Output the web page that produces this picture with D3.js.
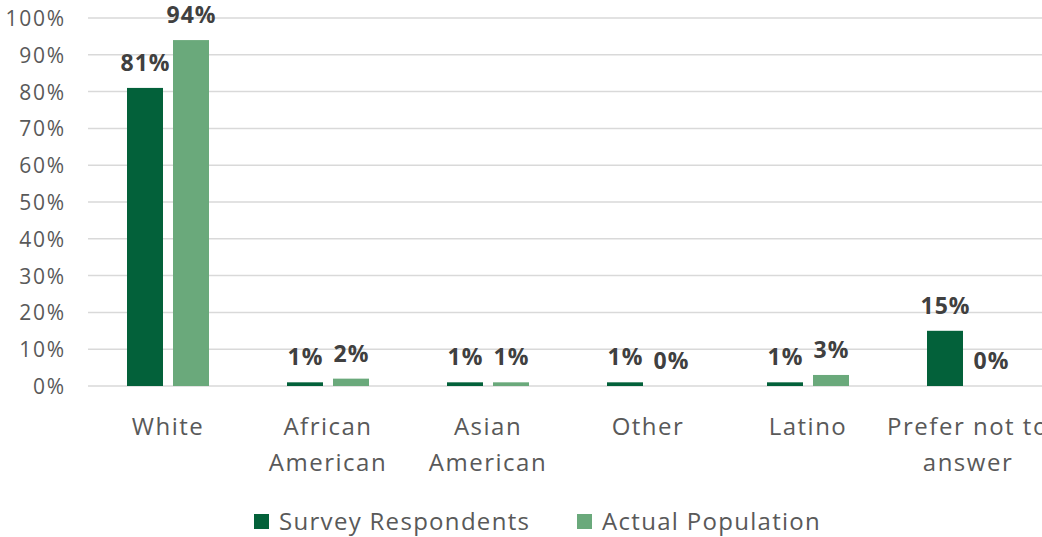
<!DOCTYPE html>
<html>
<head>
<meta charset="utf-8">
<script src="https://cdn.jsdelivr.net/npm/d3@7"></script>
<style>
  html, body { margin: 0; padding: 0; background: #fff; overflow: hidden; }
  text { font-family: "Open Sans", sans-serif; }
</style>
</head>
<body>
<div id="chart"></div>
<script>
// data
const categories = [["White"], ["African", "American"], ["Asian", "American"], ["Other"], ["Latino"], ["Prefer not to", "answer"]];
const seriesNames = ["Survey Respondents", "Actual Population"];
const surveyValues = [81, 1, 1, 1, 1, 15];
const actualValues = [94, 2, 1, 0, 3, 0];
const yTicks = [0, 10, 20, 30, 40, 50, 60, 70, 80, 90, 100];
const colors = ["#03613a", "#6aa97b"];

const width = 1042;
const height = 537;
const plotLeft = 88;
const plotRight = 1048;
const plotTop = 18;
const plotBottom = 386;

const svg = d3.select("#chart")
  .append("svg")
  .attr("width", width)
  .attr("height", height);

const xScale = d3.scaleBand()
  .domain(categories.map((d, i) => i))
  .range([plotLeft, plotRight]);

const yScale = d3.scaleLinear()
  .domain([0, 100])
  .range([plotBottom, plotTop]);

// sub-band for the two series inside each category
const groupWidth = 82;
const x1 = d3.scaleBand()
  .domain([0, 1])
  .range([0, groupWidth])
  .paddingInner(10 / 46);

// gridlines
svg.append("g")
  .selectAll("line")
  .data(yTicks)
  .join("line")
  .attr("x1", plotLeft)
  .attr("x2", plotRight)
  .attr("y1", (d) => yScale(d))
  .attr("y2", (d) => yScale(d))
  .attr("stroke", "#d9d9d9")
  .attr("stroke-width", 1.5);

// y axis
const yAxis = d3.axisLeft(yScale)
  .tickValues(yTicks)
  .tickFormat((d) => d + "%")
  .tickSize(0)
  .tickPadding(0);

const yg = svg.append("g")
  .attr("transform", "translate(66,0)")
  .call(yAxis);
yg.select(".domain").remove();
yg.selectAll("text")
  .attr("fill", "#595959")
  .style("font-family", "'Open Sans', sans-serif")
  .style("font-size", "21px")
  .style("letter-spacing", "1.8px")
  .attr("dy", "0.36em");

// bars
const rows = categories.map((c, i) => ({ i, values: [surveyValues[i], actualValues[i]] }));

const groups = svg.append("g")
  .selectAll("g")
  .data(rows)
  .join("g")
  .attr("transform", (d) => `translate(${xScale(d.i) + (xScale.bandwidth() - groupWidth) / 2},0)`);

groups.selectAll("rect")
  .data((d) => d.values.map((v, s) => ({ v, s })))
  .join("rect")
  .attr("x", (d) => x1(d.s))
  .attr("width", x1.bandwidth())
  .attr("y", (d) => yScale(d.v))
  .attr("height", (d) => yScale(0) - yScale(d.v))
  .attr("fill", (d) => colors[d.s]);

groups.selectAll("text")
  .data((d) => d.values.map((v, s) => ({ v, s })))
  .join("text")
  .attr("x", (d) => x1(d.s) + x1.bandwidth() / 2 + 0.5)
  .attr("y", (d) => yScale(d.v) - 17)
  .attr("text-anchor", "middle")
  .attr("fill", "#404040")
  .style("font-size", "23px")
  .style("font-weight", "bold")
  .style("letter-spacing", "1px")
  .text((d) => d.v + "%");

// category labels
const xg = svg.append("g");
categories.forEach((lines, i) => {
  const cx = xScale(i) + xScale.bandwidth() / 2;
  const t = xg.append("text")
    .attr("x", cx)
    .attr("y", 435)
    .attr("text-anchor", "middle")
    .attr("fill", "#595959")
    .style("font-size", "24px")
    .style("letter-spacing", "1.5px");
  lines.forEach((line, k) => {
    t.append("tspan")
      .attr("x", cx)
      .attr("dy", k === 0 ? 0 : 36)
      .text(line);
  });
});

// legend
const legendItems = [{ x: 254, name: seriesNames[0] }, { x: 577, name: seriesNames[1] }];
const legend = svg.append("g");
legendItems.forEach((d, s) => {
  legend.append("rect")
    .attr("x", d.x)
    .attr("y", 514)
    .attr("width", 15)
    .attr("height", 15)
    .attr("fill", colors[s]);
  legend.append("text")
    .attr("x", d.x + 25)
    .attr("y", 530)
    .attr("fill", "#595959")
    .style("font-size", "24px")
    .style("letter-spacing", "1.3px")
    .text(d.name);
});
</script>
</body>
</html>
